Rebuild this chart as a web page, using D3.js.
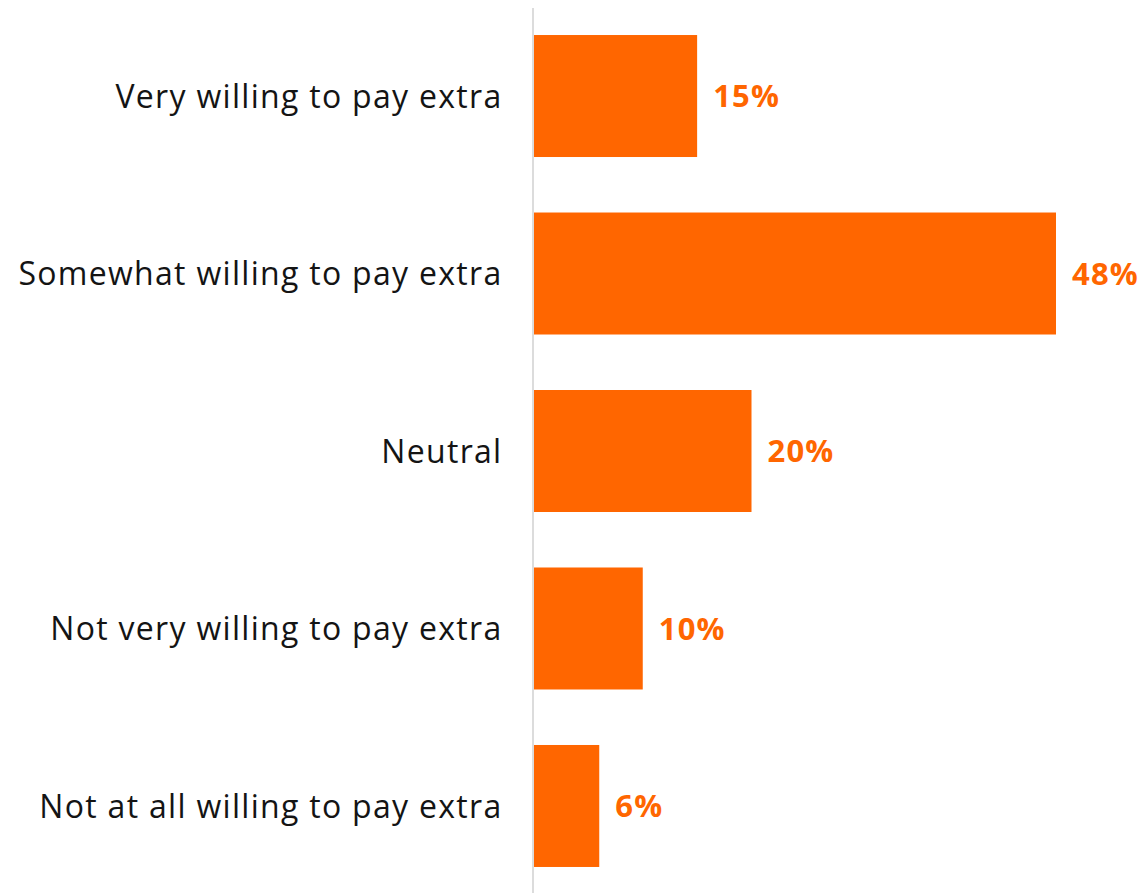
<!DOCTYPE html>
<html>
<head>
<meta charset="utf-8">
<script src="https://cdn.jsdelivr.net/npm/d3@7/dist/d3.min.js"></script>
<style>
  html, body { margin: 0; padding: 0; background: #ffffff; }
  svg { display: block; }
</style>
</head>
<body>
<svg id="chart" width="1148" height="893"></svg>
<script>
// Willingness to pay extra, share of respondents (%)
const categories = [
  "Very willing to pay extra",
  "Somewhat willing to pay extra",
  "Neutral",
  "Not very willing to pay extra",
  "Not at all willing to pay extra"
];
const values = [15, 48, 20, 10, 6];
const valueLabels = ["15%", "48%", "20%", "10%", "6%"];

const width = 1148, height = 893;
const axisX = 533;
const svg = d3.select("#chart");

const x = d3.scaleLinear().domain([0, 48]).range([axisX + 1, 1056]);
const y = d3.scaleBand()
  .domain(categories)
  .range([8.4, 893.6])
  .paddingInner(0.3127)
  .paddingOuter(0.15);

// bars
svg.append("g")
  .selectAll("rect")
  .data(categories)
  .join("rect")
  .attr("x", x(0))
  .attr("y", d => y(d))
  .attr("width", (d, i) => x(values[i]) - x(0))
  .attr("height", y.bandwidth())
  .attr("fill", "#ff6600");

// vertical baseline
svg.append("line")
  .attr("x1", axisX).attr("x2", axisX)
  .attr("y1", 8).attr("y2", height)
  .attr("stroke", "#dcdcdc")
  .attr("stroke-width", 2);

// category labels
svg.append("g")
  .selectAll("text")
  .data(categories)
  .join("text")
  .attr("x", 502.5)
  .attr("y", d => y(d) + y.bandwidth() / 2)
  .attr("dy", "0.36em")
  .attr("text-anchor", "end")
  .attr("font-family", "'Open Sans', sans-serif")
  .attr("font-size", 32)
  .attr("letter-spacing", 1.3)
  .attr("fill", "#141414")
  .text(d => d);

// value labels
svg.append("g")
  .selectAll("text")
  .data(categories)
  .join("text")
  .attr("x", (d, i) => x(values[i]) + 16)
  .attr("y", d => y(d) + y.bandwidth() / 2)
  .attr("dy", "0.36em")
  .attr("font-family", "'Open Sans', sans-serif")
  .attr("font-weight", 700)
  .attr("font-size", 31)
  .attr("letter-spacing", 1.2)
  .attr("fill", "#ff6600")
  .text((d, i) => valueLabels[i]);
</script>
</body>
</html>
